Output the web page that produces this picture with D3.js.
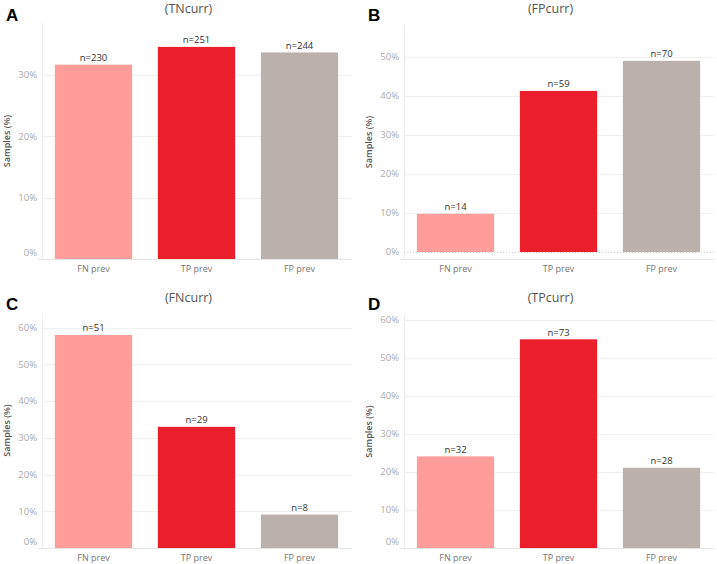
<!DOCTYPE html>
<html>
<head>
<meta charset="utf-8">
<script src="https://cdn.jsdelivr.net/npm/d3@7"></script>
<style>
  body { margin: 0; background: #fff; }
  svg { display: block; font-family: "Open Sans", sans-serif; }
</style>
</head>
<body>
<svg id="chart" width="717" height="564"></svg>
<script>
// categories shared by every panel
const categories = ["FN prev", "TP prev", "FP prev"]
const colors = ["#ff9d9a", "#eb1e2c", "#bab0ac"]

const letters = ["A", "B", "C", "D"]
const titles = ["(TNcurr)", "(FPcurr)", "(FNcurr)", "(TPcurr)"]

// sample counts shown above bars
const countsA = [230, 251, 244]
const countsB = [14, 59, 70]
const countsC = [51, 29, 8]
const countsD = [32, 73, 28]

// share of samples (%) per bar
const pctA = [31.7, 34.6, 33.7]
const pctB = [9.8, 41.3, 49.0]
const pctC = [58.0, 33.0, 9.1]
const pctD = [24.1, 54.9, 21.1]

// y axis ticks (%)
const ticksA = [0, 10, 20, 30]
const ticksB = [0, 10, 20, 30, 40, 50]
const ticksC = [0, 10, 20, 30, 40, 50, 60]
const ticksD = [0, 10, 20, 30, 40, 50, 60]

const yMax = [38.5, 58.2, 64, 61.3]

// panel layout
const layout = [
  { left: 42, right: 351, top: 23, zero: 259, axis: 259, ox: 0, oy: 0 },
  { left: 404, right: 713, top: 25, zero: 252, axis: 259, ox: 362, oy: 0 },
  { left: 42, right: 351, top: 313, zero: 548, axis: 548, ox: 0, oy: 289 },
  { left: 404, right: 713, top: 315, zero: 548, axis: 548, ox: 362, oy: 289 }
]

const panels = [
  { counts: countsA, pct: pctA, ticks: ticksA },
  { counts: countsB, pct: pctB, ticks: ticksB },
  { counts: countsC, pct: pctC, ticks: ticksC },
  { counts: countsD, pct: pctD, ticks: ticksD }
]

const svg = d3.select("#chart")

panels.forEach((p, i) => {
  const L = layout[i]
  const g = svg.append("g").attr("class", "panel")

  const x = d3.scaleBand()
    .domain(categories)
    .range([L.left, L.right])
    .paddingInner(0.25)
    .paddingOuter(0.125)

  const y = d3.scaleLinear()
    .domain([0, yMax[i]])
    .range([L.zero, L.top])

  // gridlines
  g.append("g")
    .selectAll("line")
    .data(p.ticks.filter(t => t > 0))
    .enter()
    .append("line")
    .attr("x1", L.left)
    .attr("x2", L.right + 1)
    .attr("y1", d => Math.round(y(d)) + 0.5)
    .attr("y2", d => Math.round(y(d)) + 0.5)
    .style("stroke", "#f0f0f0")

  // axis lines
  g.append("line")
    .attr("x1", L.left + 0.5).attr("x2", L.left + 0.5)
    .attr("y1", L.top).attr("y2", L.axis)
    .style("stroke", "#ececec")
  g.append("line")
    .attr("x1", L.left - 4).attr("x2", L.right + 1)
    .attr("y1", L.axis + 0.5).attr("y2", L.axis + 0.5)
    .style("stroke", "#e6e6e6")
  if (L.zero !== L.axis) {
    g.append("line")
      .attr("x1", L.left).attr("x2", L.right + 1)
      .attr("y1", L.zero + 0.5).attr("y2", L.zero + 0.5)
      .style("stroke", "#cfcfcf")
      .style("stroke-dasharray", "1,2")
  }

  // y tick labels
  g.append("g")
    .selectAll("text")
    .data(p.ticks)
    .enter()
    .append("text")
    .attr("x", L.left - 5)
    .attr("y", d => d === 0 ? Math.min(y(d), L.axis - 6) : y(d))
    .attr("dy", "0.35em")
    .attr("text-anchor", "end")
    .attr("fill", "#ababab")
    .style("font-size", "9.5px")
    .text(d => d + "%")

  // y title
  g.append("text")
    .attr("transform", `translate(${L.ox + 10}, ${(L.top + L.axis) / 2}) rotate(-90)`)
    .attr("text-anchor", "middle")
    .attr("fill", "#555")
    .style("font-size", "9px")
    .style("font-weight", "600")
    .text("Samples (%)")

  // bars
  g.append("g")
    .selectAll("rect")
    .data(categories)
    .enter()
    .append("rect")
    .attr("x", d => x(d))
    .attr("width", x.bandwidth())
    .attr("y", (d, j) => y(p.pct[j]))
    .attr("height", (d, j) => L.zero - y(p.pct[j]))
    .attr("fill", (d, j) => colors[j])

  // n labels
  g.append("g")
    .selectAll("text")
    .data(categories)
    .enter()
    .append("text")
    .attr("x", d => x(d) + x.bandwidth() / 2)
    .attr("y", (d, j) => y(p.pct[j]) - 7)
    .attr("dy", "0.35em")
    .attr("text-anchor", "middle")
    .attr("fill", "#333")
    .style("font-size", "9.5px")
    .text((d, j) => "n=" + p.counts[j])

  // x labels
  g.append("g")
    .selectAll("text")
    .data(categories)
    .enter()
    .append("text")
    .attr("x", d => x(d) + x.bandwidth() / 2)
    .attr("y", L.axis + 10)
    .attr("dy", "0.35em")
    .attr("text-anchor", "middle")
    .attr("fill", "#777")
    .style("font-size", "9px")
    .text(d => d)

  // title + panel letter
  g.append("text")
    .attr("x", (L.left + L.right) / 2 - 8)
    .attr("y", L.oy + 9)
    .attr("dy", "0.35em")
    .attr("text-anchor", "middle")
    .attr("fill", "#555")
    .style("font-size", "12.5px")
    .text(titles[i])

  g.append("text")
    .attr("x", L.ox + 6)
    .attr("y", L.oy + 21)
    .attr("fill", "#000")
    .style("font-family", "Liberation Sans, Arial, sans-serif")
    .style("font-weight", "bold")
    .style("font-size", "17px")
    .text(letters[i])
})
</script>
</body>
</html>
